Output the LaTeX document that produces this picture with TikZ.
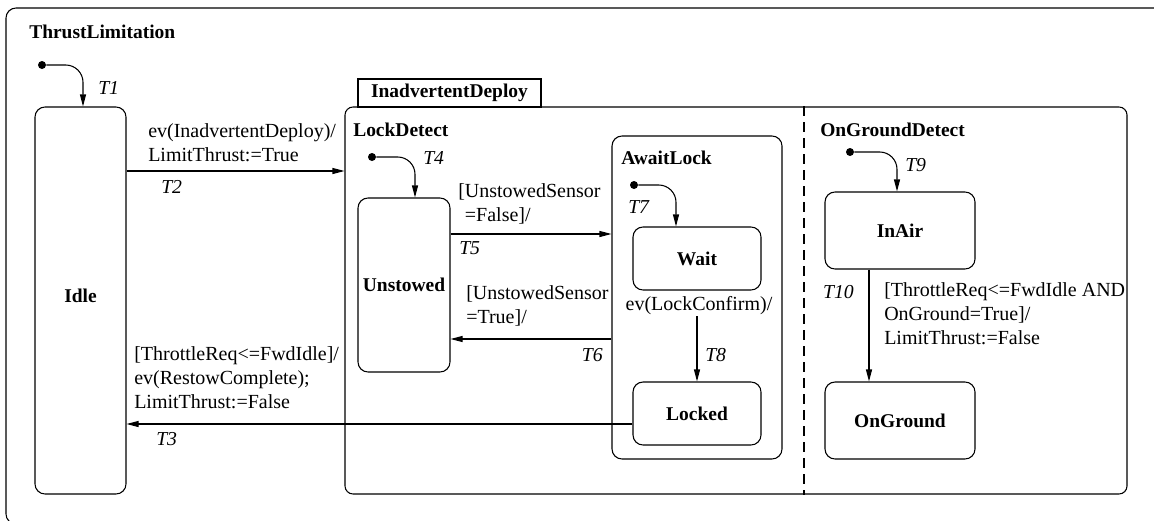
\documentclass[tikz,border=0pt]{standalone}
\usepackage{fontspec}
\setmainfont{Liberation Serif}
\usepackage{tikz}
\usetikzlibrary{arrows.meta}

\tikzset{
  stbox/.style={draw, line width=0.8pt, rounded corners=7.5pt, inner sep=0pt, font=\fontsize{14.6}{18}\selectfont\bfseries},
  trans/.style={line width=0.8pt, -{Triangle[length=9pt,width=4.5pt]}},
  initdot/.style={circle, fill, inner sep=0pt, minimum size=6pt},
  txt/.style={inner sep=0.75pt, align=left, font=\fontsize{15}{18}\selectfont},
  tname/.style={inner sep=0.75pt, font=\fontsize{14.8}{18}\selectfont\itshape},
  sname/.style={inner sep=0.75pt, font=\fontsize{14.6}{18}\selectfont\bfseries},
}

\begin{document}
\begin{tikzpicture}[x=0.75pt,y=0.75pt,yscale=-1,xscale=1]

\useasboundingbox (0,0) rectangle (1154,521);

\draw [line width=0.8pt, rounded corners=7.5pt] (6,8) rectangle (1168,524);

\node (title) at (28,32) [anchor=west][sname] {ThrustLimitation};


\node (idle) at (80.5,300.5) [stbox, minimum width=68.25pt, minimum height=290.25pt] {\raisebox{7.5pt}{Idle}};

\node (idep) at (736,300.5) [stbox, rounded corners=6pt, minimum width=586.5pt, minimum height=290.25pt] {};

\node (tab) at (449.5,93) [draw, line width=0.8pt, sname, minimum width=137.25pt, minimum height=21pt] {InadvertentDeploy};

\draw [line width=0.8pt, dash pattern=on 7pt off 5pt] (804,0 |- idep.north) -- (804,0 |- idep.south);

\node (lockdetect) at (352,130) [anchor=west][sname] {LockDetect};

\node (unstowed) at (404,285) [stbox, minimum width=69pt, minimum height=130.5pt] {Unstowed};

\node (awaitlock) at (697,297.5) [stbox, minimum width=127.5pt, minimum height=242.25pt] {};

\node (awaitname) at (620,158) [anchor=west][sname] {AwaitLock};

\node (wait) at (697,258.5) [stbox, minimum width=96pt, minimum height=47.25pt] {Wait};

\node (locked) at (697,413.5) [stbox, minimum width=96pt, minimum height=47.25pt] {Locked};

\node (ongrounddetect) at (819,130) [anchor=west][sname] {OnGroundDetect};

\node (inair) at (900,230.5) [stbox, minimum width=112.5pt, minimum height=57.75pt] {InAir};

\node (onground) at (900,420.5) [stbox, minimum width=112.5pt, minimum height=57.75pt] {OnGround};


\node (i1) at (42,65) [initdot] {};

\node (i4) at (372,157) [initdot] {};

\node (i7) at (634,185) [initdot] {};

\node (i9) at (850,152) [initdot] {};


\draw [trans, rounded corners=13pt] (i1) -| (83,0 |- idle.north);

\draw [trans, rounded corners=13pt] (i4) -| (415,0 |- unstowed.north);

\draw [trans, rounded corners=13pt] (i7) -| (676,0 |- wait.north);

\draw [trans, rounded corners=13pt] (i9) -| (897,0 |- inair.north);

\draw [trans] (idle.east |- 0,171) -- (idep.west |- 0,171);

\draw [trans] (locked.west |- 0,424) -- (idle.east |- 0,424);

\draw [trans] (unstowed.east |- 0,234) -- (awaitlock.west |- 0,234);

\draw [trans] (awaitlock.west |- 0,339) -- (unstowed.east |- 0,339);

\node (lcf) at (699,306) [txt] {ev(LockConfirm)/};

\draw [trans] (lcf.south -| locked.north) -- (locked.north);

\draw [trans] (inair.south -| 869,0) -- (onground.north -| 869,0);


\node (t1) at (97,88) [anchor=west][tname] {T1};

\node (t2) at (160,187) [anchor=west][tname] {T2};

\node (t3) at (155,439) [anchor=west][tname] {T3};

\node (t4) at (422,158) [anchor=west][tname] {T4};

\node (t5) at (458,248) [anchor=west][tname] {T5};

\node (t6) at (604,355) [anchor=east][tname] {T6};

\node (t7) at (627,207) [anchor=west][tname] {T7};

\node (t8) at (704,355) [anchor=west][tname] {T8};

\node (t9) at (904,165) [anchor=west][tname] {T9};

\node (t10) at (855,292) [anchor=east][tname] {T10};


\node (g2) at (147,122) [anchor=north west][txt] {ev(InadvertentDeploy)/\\LimitThrust:=True};

\node (g3) at (133,345) [anchor=north west][txt] {[ThrottleReq<=FwdIdle]/\\ev(RestowComplete);\\LimitThrust:=False};

\node (g5) at (457,182) [anchor=north west][txt] {[UnstowedSensor\\\hspace*{5pt}=False]/};

\node (g6) at (465,284) [anchor=north west][txt] {[UnstowedSensor\\=True]/};

\node (g10) at (883,281) [anchor=north west][txt] {[ThrottleReq<=FwdIdle AND\\OnGround=True]/\\LimitThrust:=False};

\end{tikzpicture}
\end{document}
